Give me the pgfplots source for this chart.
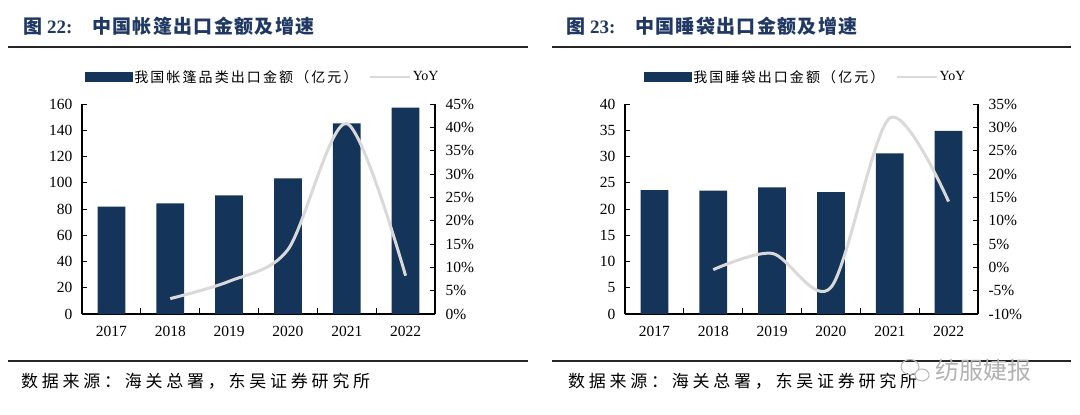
\documentclass[border=0pt]{standalone}
\usepackage{fontspec}
\setmainfont{Liberation Serif}
\newfontfamily\cjk{Noto Sans CJK SC}
\usepackage{pgfplots}
\pgfplotsset{compat=1.18}
\usepackage{pgfplotstable}
\definecolor{navy}{HTML}{14345A}
\definecolor{titleblue}{HTML}{1F3864}
\definecolor{yoygray}{HTML}{D9D9D9}

\pgfplotstableread{
x val
0 81.8
1 84.3
2 90.4
3 103.3
4 145.3
5 157.2
}\tenttable
\pgfplotstableread{
x yoy
1 3.3
2 7.0
3 13.8
4 40.8
5 8.2
}\tentyoy
\pgfplotstableread{
x val
0 23.6
1 23.5
2 24.1
3 23.2
4 30.6
5 34.9
}\bagtable
\pgfplotstableread{
x yoy
1 -0.5
2 3.0
3 -4.3
4 32.0
5 14.1
}\bagyoy

\pgfplotsset{
  base/.style={
    scale only axis, width=353pt, height=210pt,
    xmin=-0.5, xmax=5.5,
    anchor=south west,
    tick label style={font=\fontsize{15.5}{15.5}\selectfont, black},
    /pgf/number format/assume math mode=true,
    axis line style={line width=1.2pt, black},
    major tick length=5pt, minor tick length=6pt,
    tick style={line width=1pt, black},
    tick align=inside,
  },
  leftaxis/.style={base,
    axis x line*=bottom, axis y line*=left,
    xtick={0,1,2,3,4,5},
    xticklabels={2017,2018,2019,2020,2021,2022},
    minor xtick={0.5,1.5,2.5,3.5,4.5},
    major x tick style={draw=none},
    minor x tick style={line width=1pt, black},
    xticklabel style={yshift=-9pt},
    yticklabel style={xshift=-6pt},
  },
  rightaxis/.style={base,
    axis y line*=right, axis x line=none,
    yticklabel={\pgfmathprintnumber{\tick}\%},
    yticklabel style={xshift=7pt},
    legend columns=2,
    legend cell align=left,
    legend style={draw=none, fill=none, at={(0.512,1)}, anchor=center, yshift=27pt,
      font=\fontsize{14}{14}\selectfont,
      nodes={inner sep=1.5pt},
      /tikz/every odd column/.append style={column sep=0pt},
      /tikz/every even column/.append style={column sep=10pt}},
  },
}

\begin{document}
\begin{tikzpicture}
\useasboundingbox (0pt,0pt) rectangle (1080pt,-415pt);

% titles and rules
\node[anchor=base west, inner sep=0, text=titleblue] at (23pt,-33pt) {\fontsize{19}{19}\selectfont\cjk\bfseries 图};
\node[anchor=base west, inner sep=0, text=titleblue] at (47pt,-33pt) {\fontsize{19}{19}\selectfont\bfseries 22:};
\node[anchor=base west, inner sep=0, text=titleblue] at (92pt,-33pt) {\fontsize{19}{19}\selectfont\cjk\bfseries\addfontfeature{LetterSpace=7}中国帐篷出口金额及增速};
\node[anchor=base west, inner sep=0, text=titleblue] at (566pt,-33pt) {\fontsize{19}{19}\selectfont\cjk\bfseries 图};
\node[anchor=base west, inner sep=0, text=titleblue] at (590pt,-33pt) {\fontsize{19}{19}\selectfont\bfseries 23:};
\node[anchor=base west, inner sep=0, text=titleblue] at (635pt,-33pt) {\fontsize{19}{19}\selectfont\cjk\bfseries\addfontfeature{LetterSpace=7}中国睡袋出口金额及增速};
\draw[line width=2.3pt, black!85] (8pt,-46.7pt) -- (528pt,-46.7pt);
\draw[line width=2.3pt, black!85] (552pt,-46.7pt) -- (1071pt,-46.7pt);
\draw[line width=2pt, black!85] (8pt,-360.7pt) -- (528pt,-360.7pt);
\draw[line width=2pt, black!85] (552pt,-360.7pt) -- (1071pt,-360.7pt);
\node[anchor=base west, inner sep=0] at (21pt,-387.5pt) {\fontsize{17}{17}\selectfont\cjk\addfontfeature{LetterSpace=22}数据来源：海关总署，东吴证券研究所};
\node[anchor=base west, inner sep=0] at (568pt,-387.5pt) {\fontsize{17}{17}\selectfont\cjk\addfontfeature{LetterSpace=22}数据来源：海关总署，东吴证券研究所};
% watermark
\draw[gray!55, line width=1pt] (910pt,-367pt) ellipse (9pt and 7.5pt);
\draw[gray!55, line width=1pt, fill=white] (922pt,-375pt) ellipse (7pt and 6pt);
\node[anchor=base west, inner sep=0, text=gray!60] at (935pt,-379pt) {\fontsize{24}{24}\selectfont\cjk 纺服婕报};

% ---------- left chart ----------
\begin{axis}[leftaxis, at={(82pt,-314pt)}, ymin=0, ymax=160, ytick={0,20,...,160}]
\addplot[ybar, bar width=27.7pt, fill=navy, draw=none] table[x=x, y=val] {\tenttable};
\end{axis}
\begin{axis}[rightaxis, at={(82pt,-314pt)}, ymin=0, ymax=45, ytick={0,5,...,45}]
\addlegendimage{legend image code/.code={\fill[navy] (0pt,-4.5pt) rectangle (47pt,4.5pt);}}
\addlegendentry{\cjk\addfontfeature{LetterSpace=15}我国帐篷品类出口金额（亿元）}
\addplot[smooth, tension=0.5, yoygray, line width=3pt,
  legend image code/.code={\draw[yoygray, line width=2.2pt] (0pt,0pt) -- (40pt,0pt);}]
  table[x=x, y=yoy] {\tentyoy};
\addlegendentry{YoY}
\end{axis}

% ---------- right chart ----------
\begin{axis}[leftaxis, at={(625pt,-314pt)}, ymin=0, ymax=40, ytick={0,5,...,40}]
\addplot[ybar, bar width=27.7pt, fill=navy, draw=none] table[x=x, y=val] {\bagtable};
\end{axis}
\begin{axis}[rightaxis, at={(625pt,-314pt)}, ymin=-10, ymax=35, ytick={-10,-5,...,35}]
\addlegendimage{legend image code/.code={\fill[navy] (0pt,-4.5pt) rectangle (47pt,4.5pt);}}
\addlegendentry{\cjk\addfontfeature{LetterSpace=15}我国睡袋出口金额（亿元）}
\addplot[smooth, tension=0.5, yoygray, line width=3pt,
  legend image code/.code={\draw[yoygray, line width=2.2pt] (0pt,0pt) -- (40pt,0pt);}]
  table[x=x, y=yoy] {\bagyoy};
\addlegendentry{YoY}
\end{axis}
\end{tikzpicture}
\end{document}
